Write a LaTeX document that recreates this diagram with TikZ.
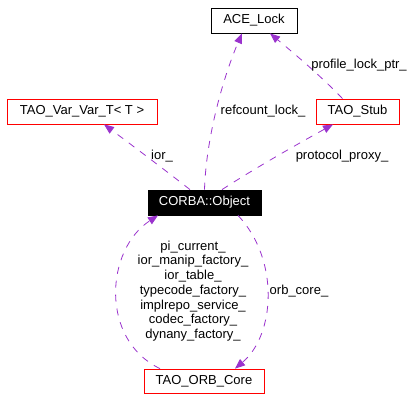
\documentclass[tikz,border=0pt]{standalone}
\usepackage{fontspec}
\setmainfont{Liberation Sans}
\usetikzlibrary{calc,arrows.meta}
\definecolor{edgepurple}{HTML}{9A32CD}
\tikzset{
	cls/.style={draw=red, line width=0.8pt, minimum height=25pt, inner sep=0pt, font=\fontsize{13}{15}\selectfont},
	uses/.style={draw=edgepurple, line width=0.8pt, dash pattern=on 7pt off 7pt, -{Triangle[length=10pt,width=8pt,fill=edgepurple]}},
	lbl/.style={font=\fontsize{13}{14.7}\selectfont, inner sep=0pt, align=center}
}

\begin{document}
\begin{tikzpicture}[x=1pt, y=-1pt]
		%%%%% START %%%%%
		\useasboundingbox (0, 0) rectangle (408, 400);
		
		\node[cls, draw=black, minimum width=86pt] (acelock) at (254, 20.5) {ACE\_Lock};
		\node[cls, minimum width=150pt] (varvar) at (82, 111.5) {TAO\_Var\_Var\_T< T >};
		\node[cls, minimum width=83pt] (stub) at (357.5, 111.5) {TAO\_Stub};
		\node[cls, draw=black, fill=black, text=white, minimum width=113pt] (object) at (204.5, 202.5) {CORBA::Object};
		\node[cls, minimum width=120pt, minimum height=24pt] (orbcore) at (204, 381) {TAO\_ORB\_Core};
		
		\draw[uses] (object.north) .. controls (206, 140) and (222, 80) .. ($(acelock.south)+(-12, 0)$);
		\draw[uses] ($(stub.north)+(-15, 0)$) .. controls (320, 75) and (290, 50) .. ($(acelock.south)+(16, 0)$);
		\draw[uses] ($(object.north)+(-14.5, 0)$) .. controls (165, 170) and (125, 140) .. ($(varvar.south)+(22, 0)$);
		\draw[uses] ($(object.north)+(17.5, 0)$) .. controls (260, 165) and (305, 140) .. ($(stub.south)+(-24.5, 0)$);
		\draw[uses] ($(object.south)+(33.5, 0)$) .. controls (280, 260) and (275, 335) .. ($(orbcore.north)+(31, 0)$);
		\draw[uses] ($(orbcore.north)+(-44, 0)$) .. controls (100, 340) and (105, 250) .. ($(object.south)+(-46.5, 0)$);
		
		\node[lbl] (lrefcount) at (263, 111) {refcount\_lock\_};
		\node[lbl] (lprofile) at (359, 65) {profile\_lock\_ptr\_};
		\node[lbl] (lior) at (162, 156) {ior\_};
		\node[lbl] (lproxy) at (342, 156) {protocol\_proxy\_};
		\node[lbl] (lorbcore) at (299, 291) {orb\_core\_};
		\node[lbl] (lmembers) at (193, 291) {pi\_current\_\\ior\_manip\_factory\_\\ior\_table\_\\typecode\_factory\_\\implrepo\_service\_\\codec\_factory\_\\dynany\_factory\_};
		%%%%% END %%%%%
	\end{tikzpicture}
\end{document}
